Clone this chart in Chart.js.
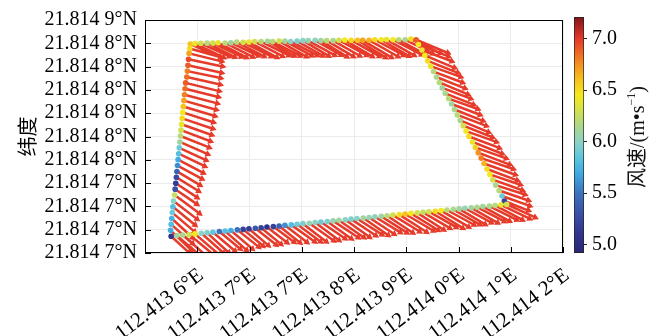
<!DOCTYPE html>
<html><head><meta charset="utf-8">
<script src="https://cdn.jsdelivr.net/npm/chart.js@4.4.1/dist/chart.umd.min.js"></script>
<style>
html,body{margin:0;padding:0;background:#fff;}
#wrap{position:relative;width:661px;height:336px;overflow:hidden;}
#main{position:absolute;left:0;top:0;}
#cb{position:absolute;left:560px;top:0;}
#cbTitle{position:absolute;left:636px;top:137px;transform:translate(-50%,-50%) rotate(-90deg);white-space:nowrap;font-size:20px;font-family:"Liberation Serif","Noto Sans CJK SC",serif;color:#111;line-height:1;}
#cbTitle .cjk{font-family:"Noto Sans CJK SC",sans-serif;}
#cbTitle sup{font-size:12px;vertical-align:9px;}
</style></head>
<body><div id="wrap">
<canvas id="main" width="661" height="336"></canvas>
<canvas id="cb" width="101" height="336"></canvas>
<div id="cbTitle"><span class="cjk">风速</span>/(m•s<sup>−1</sup>)</div>
</div>
<script>
// ---------------- data ----------------
const lon = [
112.413598,112.413606,112.413616,112.413627,112.413637,112.413646,112.413658,112.413668,112.413678,112.413689,
112.413699,112.413709,112.413720,112.413731,112.413740,112.413751,112.413761,112.413771,112.413782,112.413792,
112.413801,112.413813,112.413823,112.413833,112.413844,112.413854,112.413864,112.413875,112.413886,112.413895,
112.413906,112.413916,112.413927,112.413936,112.413947,112.413957,112.413968,112.413978,112.413987,
112.413991,112.413997,112.414002,112.414007,112.414012,112.414017,112.414022,112.414027,112.414032,112.414037,
112.414043,112.414048,112.414053,112.414058,112.414063,112.414068,112.414073,112.414078,112.414084,112.414089,
112.414094,112.414099,112.414104,112.414109,112.414114,112.414119,112.414124,112.414130,112.414135,112.414139,112.414143,
112.414133,112.414123,112.414113,112.414102,112.414092,112.414082,112.414071,112.414061,112.414051,112.414040,
112.414030,112.414020,112.414009,112.413999,112.413989,112.413978,112.413968,112.413958,112.413947,112.413937,
112.413927,112.413916,112.413906,112.413896,112.413885,112.413875,112.413865,112.413854,112.413844,112.413834,
112.413823,112.413813,112.413803,112.413792,112.413782,112.413772,112.413761,112.413751,112.413741,112.413730,
112.413720,112.413710,112.413699,112.413689,112.413679,112.413668,112.413658,112.413648,112.413637,112.413627,
112.413617,112.413606,112.413596,112.413585,112.413575,112.413565,
112.413564,112.413565,112.413566,112.413567,112.413568,112.413569,112.413571,112.413572,112.413573,112.413574,
112.413575,112.413576,112.413577,112.413578,112.413579,112.413580,112.413581,112.413582,112.413583,112.413584,
112.413585,112.413586,112.413587,112.413588,112.413589,112.413590,112.413592,112.413593,112.413594,112.413595,
112.413596,112.413597
];
const lat = [
21.8148845,21.8148848,21.8148850,21.8148851,21.8148851,21.8148854,21.8148852,21.8148854,21.8148858,21.8148856,
21.8148858,21.8148861,21.8148861,21.8148863,21.8148861,21.8148864,21.8148864,21.8148862,21.8148864,21.8148867,
21.8148867,21.8148869,21.8148867,21.8148867,21.8148867,21.8148870,21.8148871,21.8148870,21.8148870,21.8148869,
21.8148870,21.8148873,21.8148873,21.8148874,21.8148873,21.8148873,21.8148873,21.8148877,21.8148873,
21.8148842,21.8148807,21.8148772,21.8148737,21.8148703,21.8148668,21.8148633,21.8148598,21.8148563,21.8148528,
21.8148494,21.8148459,21.8148424,21.8148389,21.8148354,21.8148320,21.8148285,21.8148250,21.8148215,21.8148180,
21.8148146,21.8148111,21.8148076,21.8148041,21.8148006,21.8147972,21.8147937,21.8147902,21.8147867,21.8147835,21.8147813,
21.8147810,21.8147806,21.8147802,21.8147799,21.8147795,21.8147791,21.8147788,21.8147784,21.8147780,21.8147777,
21.8147773,21.8147769,21.8147766,21.8147762,21.8147758,21.8147755,21.8147751,21.8147747,21.8147744,21.8147740,
21.8147736,21.8147733,21.8147729,21.8147725,21.8147722,21.8147718,21.8147714,21.8147711,21.8147707,21.8147703,
21.8147700,21.8147696,21.8147692,21.8147689,21.8147685,21.8147681,21.8147678,21.8147674,21.8147670,21.8147667,
21.8147663,21.8147659,21.8147656,21.8147652,21.8147649,21.8147645,21.8147641,21.8147638,21.8147634,21.8147630,
21.8147627,21.8147623,21.8147619,21.8147616,21.8147612,21.8147608,
21.8147646,21.8147684,21.8147722,21.8147760,21.8147798,21.8147835,21.8147873,21.8147911,21.8147949,21.8147987,
21.8148025,21.8148063,21.8148101,21.8148139,21.8148177,21.8148215,21.8148253,21.8148291,21.8148329,21.8148367,
21.8148405,21.8148443,21.8148481,21.8148519,21.8148557,21.8148595,21.8148633,21.8148671,21.8148709,21.8148747,
21.8148785,21.8148817
];
// wind speed (m/s)
const speed = [
6.6,6.4,6.3,6.2,6.3,6.4,6.2,6.1,6.2,6.3,6.4,6.3,6.2,6.1,6.2,6.3,6.1,6.0,5.95,6.0,
6.05,6.0,6.1,6.2,6.15,6.3,6.45,6.5,6.6,6.7,6.65,6.5,6.45,6.4,6.45,6.2,6.15,6.5,6.9,
6.45,6.4,6.45,6.5,6.4,6.2,6.15,6.2,6.1,6.15,6.2,6.1,6.15,6.2,6.15,6.3,6.45,6.5,6.4,6.55,
6.75,6.8,6.65,6.5,6.45,6.3,6.15,6.2,5.9,5.2,6.3,
6.4,6.2,6.15,6.1,6.15,6.1,6.05,6.1,6.15,6.2,6.45,6.5,6.3,6.25,6.3,6.45,6.6,6.5,6.3,6.2,
6.1,6.0,6.05,6.1,6.0,5.95,6.0,6.1,6.05,5.95,5.9,6.0,6.05,5.95,5.9,5.8,5.6,5.4,5.2,5.1,
5.2,5.35,5.15,5.2,5.5,5.7,5.8,5.5,5.85,5.95,6.0,6.45,6.3,6.15,6.1,5.1,
5.7,5.8,5.75,5.9,5.8,6.0,6.25,5.3,5.15,5.25,5.4,5.6,5.7,5.8,5.9,6.1,6.2,6.3,6.4,6.5,
6.45,6.6,6.7,6.8,6.85,6.9,6.85,6.8,6.9,6.95,6.7,6.5
];
// direction the wind blows toward (degrees clockwise from north)
const windDir = [
114,116,115,117,116,118,117,116,118,117,119,118,117,119,118,120,119,118,120,121,
119,120,122,121,120,119,121,120,122,121,120,119,121,120,118,119,117,116,113,
112,111,113,112,110,111,112,113,111,112,110,111,112,111,113,112,110,111,112,110,
111,109,110,111,109,110,108,109,110,112,115,
116,118,117,119,118,120,119,121,120,119,121,122,120,121,123,122,121,123,122,124,
123,122,124,125,123,124,126,125,124,126,125,127,126,128,127,126,128,129,127,128,
130,129,131,130,129,131,132,130,131,133,132,131,130,132,131,133,
134,132,133,131,130,128,127,125,124,122,121,119,118,116,115,114,112,111,110,109,
108,107,106,105,104,104,103,102,103,102,104,106
];
const xTickValues = [112.41352,112.41361,112.41370,112.41379,112.41388,112.41397,112.41406,112.41415,112.41424];
const xTickLabels = ['','112.413 6°E','112.413 7°E','112.413 7°E','112.413 8°E','112.413 9°E','112.414 0°E','112.414 1°E','112.414 2°E'];
const yTickValues = [21.81475,21.814765,21.81478,21.814795,21.81481,21.814825,21.81484,21.814855,21.81487,21.814885,21.8149];
const yTickLabels = ['21.814 7°N','21.814 7°N','21.814 7°N','21.814 7°N','21.814 8°N','21.814 8°N','21.814 8°N','21.814 8°N','21.814 8°N','21.814 8°N','21.814 9°N'];
const cbRange = [4.92, 7.21];
const cbTicks = [5.0, 5.5, 6.0, 6.5, 7.0];

// ---------------- styles ----------------
const PLOT_W = 418, PLOT_H = 237;      // plot area size in px
const ARROW_PX = 5;                     // quiver: px per (m/s)
const ARROW_COLOR = '#e63a2a';
const SERIF = 'Liberation Serif';
const CMAP = [
  [4.92,[40,40,115]],[5.1,[48,52,140]],[5.3,[58,80,165]],[5.5,[60,115,190]],[5.7,[64,172,226]],
  [5.85,[95,197,221]],[6.0,[140,210,195]],[6.15,[172,214,140]],[6.3,[210,224,80]],[6.45,[244,232,30]],
  [6.6,[247,194,30]],[6.75,[243,146,32]],[6.9,[236,90,38]],[7.0,[228,56,42]],[7.21,[128,22,24]]
];
function cmap(v){
  if (v <= CMAP[0][0]) return `rgb(${CMAP[0][1].join(',')})`;
  for (let i=1;i<CMAP.length;i++){
    if (v <= CMAP[i][0]){
      const [v0,c0]=CMAP[i-1],[v1,c1]=CMAP[i]; const t=(v-v0)/(v1-v0);
      return `rgb(${c0.map((c,k)=>Math.round(c+(c1[k]-c)*t)).join(',')})`;
    }
  }
  return `rgb(${CMAP[CMAP.length-1][1].join(',')})`;
}
const lonPerPx = (xTickValues[8]-xTickValues[0])/PLOT_W;
const latPerPx = (yTickValues[10]-yTickValues[0])/PLOT_H;

const dots = lon.map((x,i)=>({x, y:lat[i]}));
const dotColors = speed.map(cmap);
const shafts = [], heads = [];
lon.forEach((x,i)=>{
  const t = windDir[i]*Math.PI/180;
  const ex = x + speed[i]*Math.sin(t)*ARROW_PX*lonPerPx;
  const ey = lat[i] + speed[i]*Math.cos(t)*ARROW_PX*latPerPx;
  shafts.push({x, y:lat[i]}, {x:ex, y:ey}, {x:ex, y:null});
  heads.push({x:ex, y:ey, r:windDir[i]});
});

const frame = {
  id:'frame',
  afterDraw(chart){
    const {ctx, chartArea:a, scales} = chart;
    ctx.save();
    ctx.strokeStyle='#000'; ctx.lineWidth=1;
    ctx.strokeRect(Math.round(a.left)+0.5, Math.round(a.top)+0.5, Math.round(a.right-a.left)-1, Math.round(a.bottom-a.top)-1);
    ctx.beginPath();
    scales.x.ticks.forEach((t,i)=>{ const p=Math.round(scales.x.getPixelForTick(i))+0.5; ctx.moveTo(p,a.bottom); ctx.lineTo(p,a.bottom-6); });
    scales.y.ticks.forEach((t,i)=>{ const p=Math.round(scales.y.getPixelForTick(i))+0.5; ctx.moveTo(a.left,p); ctx.lineTo(a.left+6,p); });
    ctx.stroke();
    ctx.restore();
  }
};

new Chart(document.getElementById('main'), {
  type:'scatter',
  data:{datasets:[
    {data:dots, pointRadius:2.8, pointHoverRadius:2.8, pointBorderWidth:0, pointBackgroundColor:dotColors, showLine:false},
    {data:heads, pointStyle:'triangle', pointRadius:4, pointBorderWidth:0, pointBackgroundColor:ARROW_COLOR,
     rotation:(c)=>c.raw ? c.raw.r : 0, showLine:false},
    {data:shafts, showLine:true, spanGaps:false, borderColor:ARROW_COLOR, borderWidth:2.5, pointRadius:0, fill:false}
  ]},
  options:{
    responsive:false, animation:false, events:[],
    layout:{padding:{left:0, top:16, right:98, bottom:0}},
    plugins:{legend:{display:false}, tooltip:{enabled:false}},
    scales:{
      x:{type:'linear', min:xTickValues[0], max:xTickValues[8],
        afterBuildTicks:s=>{ s.ticks = xTickValues.map(v=>({value:v})); },
        ticks:{autoSkip:false, minRotation:37, maxRotation:37, padding:10, labelOffset:4, color:'#000',
          font:{family:SERIF, size:21}, callback:(v,i)=>xTickLabels[i]},
        grid:{color:'#ebebeb', tickLength:0}, border:{display:false},
        afterFit:s=>{ s.height = 83; }},
      y:{type:'linear', min:yTickValues[0], max:yTickValues[10],
        afterBuildTicks:s=>{ s.ticks = yTickValues.map(v=>({value:v})); },
        ticks:{autoSkip:false, padding:8, color:'#000', font:{family:SERIF, size:20}, callback:(v,i)=>yTickLabels[i]},
        grid:{color:'#ebebeb', tickLength:0}, border:{display:false},
        title:{display:true, text:'纬度', color:'#000', font:{family:'Noto Sans CJK SC', size:20}, padding:{top:15, bottom:0}},
        afterFit:s=>{ s.width = 145; }}
    }
  },
  plugins:[frame]
});

// ---------------- colour bar ----------------
new Chart(document.getElementById('cb'), {
  type:'bar',
  data:{labels:[''], datasets:[{data:[[cbRange[0], cbRange[1]]], borderColor:'#222', borderWidth:1, borderSkipped:false,
    barPercentage:1, categoryPercentage:1,
    backgroundColor:(c)=>{
      const {ctx, chartArea:a} = c.chart; if(!a) return '#888';
      const g = ctx.createLinearGradient(0, a.bottom, 0, a.top);
      CMAP.forEach(([v,col])=>g.addColorStop((v-cbRange[0])/(cbRange[1]-cbRange[0]), `rgb(${col.join(',')})`));
      return g;
    }}]},
  options:{
    responsive:false, animation:false, events:[],
    layout:{padding:{left:14, top:16, bottom:83, right:0}},
    plugins:{legend:{display:false}, tooltip:{enabled:false}},
    scales:{
      x:{display:false},
      y:{position:'right', min:cbRange[0], max:cbRange[1],
        afterBuildTicks:s=>{ s.ticks = cbTicks.map(v=>({value:v})); },
        ticks:{callback:v=>v.toFixed(1), color:'#000', font:{family:SERIF, size:20}, padding:5},
        grid:{display:true, drawOnChartArea:false, tickLength:3, color:'#222'}, border:{display:false},
        afterFit:s=>{ s.width = 77; }}
    }
  }
});
</script>
</body></html>
